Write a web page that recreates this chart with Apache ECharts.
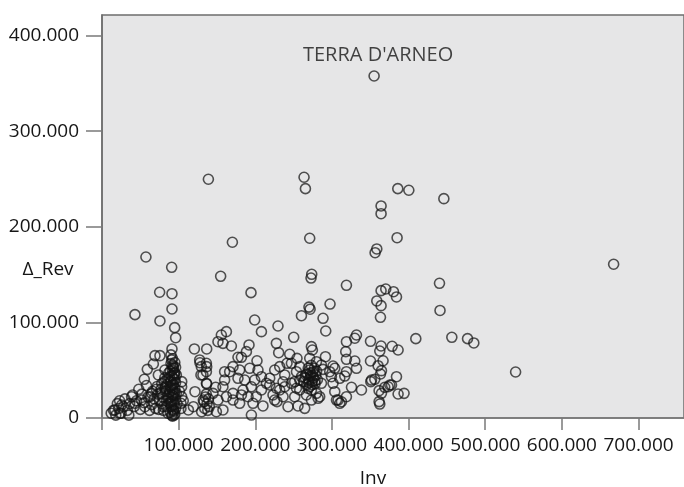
<!DOCTYPE html>
<html>
<head>
<meta charset="utf-8">
<script src="https://cdn.jsdelivr.net/npm/echarts@6/dist/echarts.min.js"></script>
<style>
html,body{margin:0;padding:0;background:#fff;}
#chart{width:684px;height:487px;}
</style>
</head>
<body>
<div id="chart"></div>
<script>
// Inv (x) and Δ_Rev (y) values
const inv = [
138800,263600,265400,385900,400300,446000,364100,364100,170100,271000,
385000,358500,356300,57300,90900,154800,273600,272700,318900,440300,
75200,91300,194400,364100,370200,380300,384200,358500,364100,297500,
270000,271500,91300,441000,667500,409400,456400,476900,485100,539600,
363300,350300,364100,378500,386300,362400,350300,366700,360200,364600,
363300,355900,350700,384200,375500,368900,361500,364600,386300,394100,
361500,362400,318900,329800,332000,318000,318900,329800,332000,318900,
316700,325500,338500,318900,312400,288400,291900,291500,286300,288400,
301400,303700,299300,310200,308000,310200,286300,284000,373300,377700,
351600,43000,75600,94800,96100,91300,69100,75600,67000,59100,
55200,90900,93100,94400,82100,73500,120500,136600,127800,136600,
129100,136600,121300,132200,112700,119200,130000,16800,25600,23400,
38600,43000,51700,56000,64800,62500,
260200,199200,229600,208000,250100,273200,274500,227500,230500,162300,
155700,151300,157800,168800,191800,188400,177400,181900,202200,203500,
244900,254400,247100,258000,271000,279800,271000,
268000,272000,276000,270000,274000,278000,267000,271000,275000,279000,265000,269000,277000,281000,263000,273000,
179600,160000,166600,160000,148300,157800,144800,186200,184000,194900,
199200,208000,208000,214500,218800,225300,227500,231900,225300,228300,
242700,255700,264500,238400,247100,253700,258000,236200,251400,273200,
279800,281900,273200,194900,197000,210000,157800,179600,181900,162300,
170900,136200,136200,136200,127400,129600,131700,149200,151300,297100,
301400,303700,305900,
134000,137000,139000,135000,138000,136000,140000,133000,
170900,177400,192700,218800,238400,236200,223100,231900,241400,253700,260200,251400,258000,266700,201300,190500,170900,
103900,103900,103000,101000,104000,106000,103000,
92000,95000,89000,93000,96000,90000,94000,88000,92000,96000,
90000,94000,88000,92000,95000,89000,93000,96000,90000,94000,
91000,95000,89000,93000,92000,95000,86000,84000,86000,83000,
85000,82000,87000,80000,78000,79000,77000,81000,75000,73000,
70000,68000,72000,65000,66000,62000,60000,58000,55000,52000,
50000,48000,45000,42000,40000,36000,33000,30000,28000,25000,
22000,20000,18000,15000,12000,23000,35000,97000,97000,98000,
91000,94000,90000,93000,91000,95000,88000,92000,90000,94000,
93000,90000,92000,95000,91000,89000,94000,92000,96000,90000,
84000,87000,83000,86000,80000,82000,76000,78000,74000,71000,
275000,270000,278000,272000,266000,280000,269000,274000
];
const deltaRev = [
249700,251800,239900,239900,238200,229400,221800,213700,183800,188000,
188600,176800,172900,168400,157600,148200,150300,146400,138800,140900,
131500,130000,131100,133200,134900,132100,126600,122400,117500,119200,
116000,113800,114000,112500,160800,83000,84400,83000,78500,48100,
105300,80200,75300,75000,71100,70000,59600,59900,54700,49500,
46000,40500,38000,43200,34500,32100,28600,25800,25100,25800,
17100,14600,79800,83400,86800,69400,61400,59600,52000,48400,
43900,32100,29300,22300,17000,104300,91000,64100,55400,50900,
54400,52000,43200,41500,18800,15400,36300,22300,32700,34500,
39700,108100,101500,94500,84000,72200,65200,65200,56500,50900,
40500,60700,53700,46800,50200,45000,72200,72200,57800,53700,
45000,35600,27500,18800,8400,11800,6600,8400,13600,4900,
22300,15400,18800,11800,25800,22300,
107000,102500,96200,90300,84400,74600,71100,78100,68300,90300,
86800,79800,78100,75300,76400,69400,63500,63500,59900,50200,
66600,62400,57200,53700,62400,58900,50200,
46000,44000,42000,40000,38000,36000,35000,33000,48000,45000,42000,52000,52000,40000,38000,55000,
50200,48400,48400,39700,32100,32700,25800,39700,29300,32700,
39700,43200,29300,36300,41500,50200,31100,29300,18800,17100,
11800,12600,10100,32700,36300,31100,39700,22300,22300,29300,
25800,20600,18800,3100,15400,12600,8400,15400,24100,22300,
25800,57200,48400,36300,60700,53700,45000,6600,18800,48400,
36300,27500,18800,
10000,15000,20000,22000,8000,25000,12000,17000,
53700,41500,52000,34500,45000,37900,24100,53700,57200,48400,43200,38000,29300,24100,22300,22300,18800,
32700,22300,15400,28000,38000,18000,10000,
2000,4000,6000,8000,10000,12000,14000,16000,18000,20000,
22000,25000,27000,29000,31000,33000,35000,37000,39000,41000,
44000,47000,49000,52000,55000,58000,5000,12000,20000,28000,
35000,42000,47000,8000,15000,22000,30000,38000,18000,25000,
10000,20000,33000,14000,28000,8000,22000,34000,16000,25000,
9000,30000,18000,12000,24000,15000,8000,20000,12000,5000,
10000,15000,3000,8000,5000,18000,3000,26000,45000,15000,
3000,7000,17000,23000,34000,40000,43000,62000,66000,3000,
9000,15000,24000,27000,31000,38000,45000,50000,53000,57000,
18000,24000,33000,40000,12000,31000,26000,36000,9000,30000,
44000,37000,39000,47000,45000,49000,31000,35000
];
// labelled case
const namedInv = [355000];
const namedRev = [357700];
const namedLabel = ["TERRA D'ARNEO"];

const xTicks = [0,100000,200000,300000,400000,500000,600000,700000];
const xLabels = [100000,200000,300000,400000,500000,600000,700000];
const yTicks = [0,100000,200000,300000,400000];

function fmt(v){
  return String(Math.round(v)).replace(/\B(?=(\d{3})+(?!\d))/g,'.');
}

const pts = inv.map((x,i)=>[x, deltaRev[i]]);
const namedPts = namedInv.map((x,i)=>({value:[x, namedRev[i]], name:namedLabel[i]}));

const FONT = 'Open Sans';
const TXT = '#161616';
const chart = echarts.init(document.getElementById('chart'), null, {renderer:'canvas'});
const sym = {
  color: 'rgba(0,0,0,0)',
  borderColor: 'rgba(20,20,20,0.9)',
  borderWidth: 1.6
};
chart.setOption({
  animation:false,
  backgroundColor:'#ffffff',
  grid:{left:102, right:0, top:15, bottom:69, show:true, backgroundColor:'#e6e6e7', borderColor:'#6e6e6e', borderWidth:1.5},
  xAxis:{
    type:'value', min:0, max:759300, interval:100000,
    splitLine:{show:false},
    axisLine:{show:true, onZero:false, lineStyle:{color:'#7a7a7a', width:1.5}},
    axisTick:{show:true, length:12, lineStyle:{color:'#7a7a7a', width:1.5}, customValues:xTicks},
    axisLabel:{margin:18, color:TXT, fontFamily:FONT, fontSize:19, customValues:xLabels, formatter:fmt}
  },
  yAxis:{
    type:'value', min:0, max:421500, interval:100000,
    splitLine:{show:false},
    axisLine:{show:true, onZero:false, lineStyle:{color:'#6e6e6e', width:1.5}},
    axisTick:{show:true, length:16, lineStyle:{color:'#7a7a7a', width:1.5}, customValues:yTicks},
    axisLabel:{margin:23, color:TXT, fontFamily:FONT, fontSize:19, customValues:yTicks, formatter:fmt}
  },
  graphic:[
    {type:'text', x:48, y:270, style:{text:'Δ_Rev', x:0, y:0, align:'center', verticalAlign:'middle', fill:TXT, font:'19px "Open Sans"'}},
    {type:'text', x:373, y:479, style:{text:'Inv', x:0, y:0, align:'center', verticalAlign:'middle', fill:TXT, font:'19px "Open Sans"'}}
  ],
  series:[
    {type:'scatter', data:pts, symbol:'circle', symbolSize:10, clip:false, itemStyle:sym, silent:true},
    {type:'scatter', data:namedPts, symbol:'circle', symbolSize:10, clip:false, itemStyle:sym, silent:true,
      label:{show:true, position:'top', distance:5, offset:[4,0], formatter:'{b}', color:TXT, fontFamily:FONT, fontSize:20}}
  ]
});
</script>
</body>
</html>
